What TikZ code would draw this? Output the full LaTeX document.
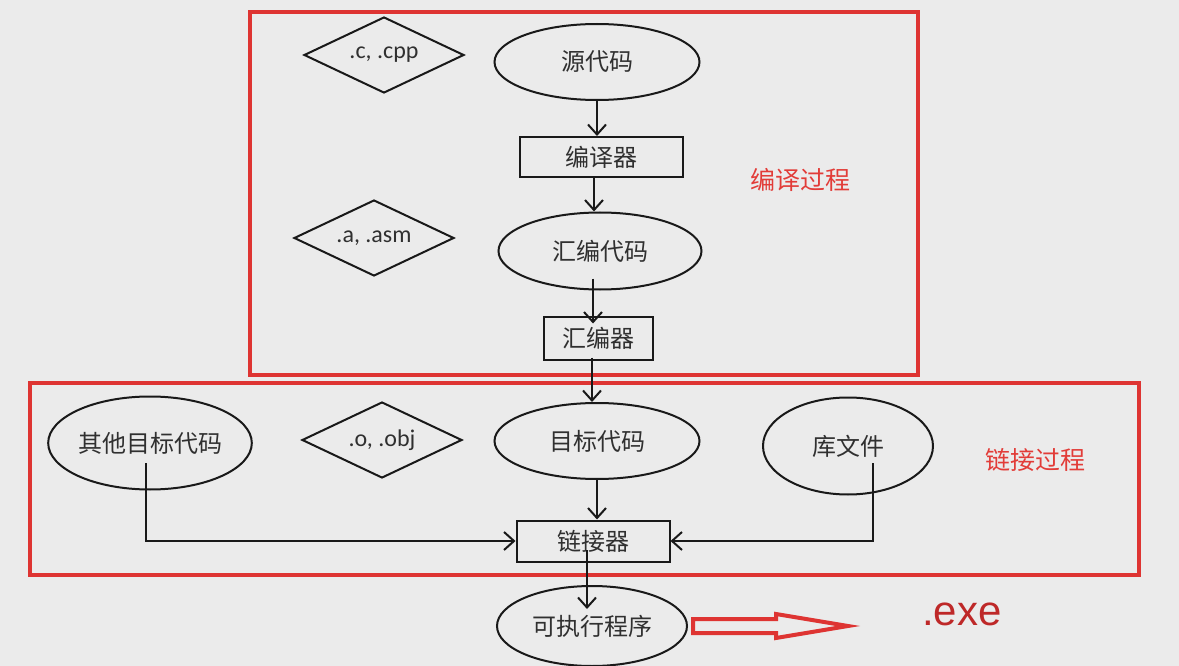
\documentclass[tikz,border=0pt]{standalone}
\usepackage{fontspec}
\setmainfont{Carlito}
\newfontfamily\cjk{Noto Sans CJK SC}
\newfontfamily\arialf{Liberation Sans}
\usetikzlibrary{shapes.geometric,arrows.meta,calc}
\definecolor{bg}{RGB}{235,235,235}
\definecolor{boxred}{RGB}{222,52,50}
\definecolor{labred}{RGB}{226,60,56}
\definecolor{exered}{RGB}{190,40,40}
\definecolor{ink}{RGB}{25,25,25}
\begin{document}
\begin{tikzpicture}[x=1pt,y=-1pt,
  line join=miter,
  oval/.style={ellipse, draw=ink, line width=2pt, inner sep=0pt,
    font=\cjk\fontsize{24}{28}\selectfont, text=ink!90},
  tool/.style={rectangle, draw=ink, line width=2pt, inner sep=0pt,
    font=\cjk\fontsize{24}{28}\selectfont, text=ink!90},
  ext/.style={diamond, draw=ink, line width=2pt, inner sep=0pt, aspect=2,
    minimum width=160pt, minimum height=76pt,
    font=\fontsize{24}{28}\selectfont, text=ink!90},
  stage/.style={draw=boxred, line width=4pt},
  stagelabel/.style={font=\cjk\fontsize{25}{30}\selectfont, text=labred},
  flow/.style={draw=ink, line width=2pt,
    -{Straight Barb[length=10pt,width=18pt,line width=2pt]}},
]
% canvas
\fill[bg] (0,0) rectangle (1179,666);
\useasboundingbox (0,0) rectangle (1179,666);

% stage frames
\draw[stage] (250,12) rectangle (918,375);
\draw[stage] (30,383) rectangle (1139,575);
\node[stagelabel] (lcompile) at (800,180) {编译过程};
\node[stagelabel] (llink) at (1035,460) {链接过程};

% file-type tags
\node[ext] (tc) at (384,55) {.c, .cpp};
\node[ext] (ta) at (374,238) {.a, .asm};
\node[ext] (to) at (382,440) {.o, .obj};

% compile chain
\node[oval, minimum width=205pt, minimum height=76pt] (src) at (597,62) {源代码};
\node[tool, minimum width=163pt, minimum height=40pt] (cc) at (601,157) {编译器};
\node[oval, minimum width=203pt, minimum height=77pt] (asmc) at (600,251) {汇编代码};
\node[tool, minimum width=109pt, minimum height=43pt] (as) at (598,338) {汇编器};

% link stage
\node[oval, minimum width=205pt, minimum height=76pt] (obj) at (597,441) {目标代码};
\node[oval, minimum width=190pt, minimum height=93pt] (other) at (150,443) {其他目标代码};
\node[oval, minimum width=170pt, minimum height=97pt] (lib) at (848,446) {库文件};
\node[tool, minimum width=153pt, minimum height=41pt] (ld) at (593,541) {链接器};
\node[oval, minimum width=190pt, minimum height=80pt] (exe) at (592,626) {可执行程序};
\node[font=\arialf\fontsize{42}{48}\selectfont, text=exered] (ext) at (962,614) {.exe};

% connectors along the main spine
\draw[flow] (src.south) -- (src.south |- cc.north);
\draw[flow] ([xshift=-7pt]cc.south) -- ([xshift=-7pt]cc.south |- asmc.north);
\draw[flow] ([shift={(-7pt,12pt)}]asmc.south) -- ([shift={(-7pt,-8pt)}]asmc.south |- as.north);
\draw[flow] ([shift={(-6pt,3pt)}]as.south) -- ([xshift=-6pt]as.south |- obj.north);
\draw[flow] (obj.south) -- (obj.south |- ld.north);
\draw[flow] ([shift={(-6pt,-9pt)}]ld.center) -- ([shift={(-6pt,-24pt)}]ld.center |- exe.north);
% side inputs into the linker
\draw[flow] ([shift={(-4pt,-20pt)}]other.center) |- (ld.west);
\draw[flow] ([shift={(25pt,-17pt)}]lib.center) |- (ld.east);

% hollow output arrow
\coordinate (a0) at ([xshift=5pt]exe.east);
\draw[draw=boxred, line width=4pt, line join=miter]
  ($(a0)+(0,-7)$) -- ($(a0)+(83,-7)$) -- ($(a0)+(83,-12)$)
  -- ($(a0)+(155,0)$)
  -- ($(a0)+(83,12)$) -- ($(a0)+(83,7)$) -- ($(a0)+(0,7)$) -- cycle;
\end{tikzpicture}
\end{document}
